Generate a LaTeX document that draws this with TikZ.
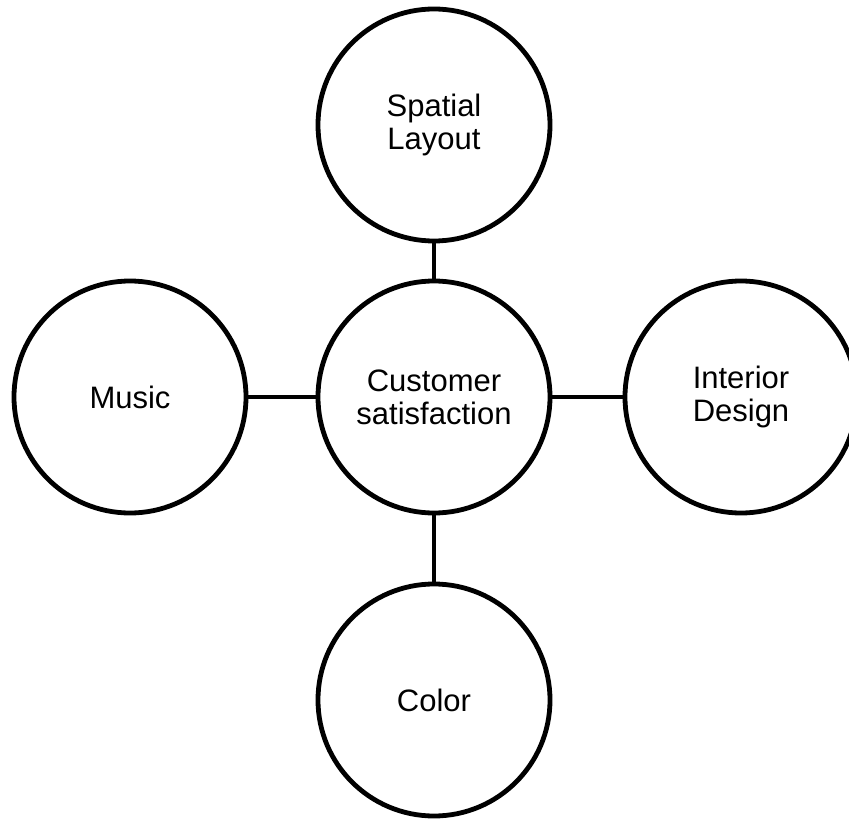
\documentclass[tikz,border=0pt]{standalone}
\usepackage{fontspec}
\setmainfont{Liberation Sans}
\begin{document}
\begin{tikzpicture}[x=1pt,y=-1pt,
  bubble/.style={draw=black,line width=4.8pt,circle,minimum size=232pt,inner sep=0pt,
    align=center,font=\fontsize{31}{33}\selectfont},
  link/.style={draw=black,line width=4.8pt}]
\useasboundingbox (0,0) rectangle (849,821);
\node[bubble] (c) at (434,397) {Customer\\satisfaction};
\node[bubble] (t) at (434,125) {Spatial\\Layout};
\node[bubble] (l) at (130,397) {Music};
\node[bubble] (r) at (741,397) {Interior\\Design};
\node[bubble] (b) at (434,700) {Color};
\draw[link] (t) -- (c);
\draw[link] (l) -- (c);
\draw[link] (c) -- (r);
\draw[link] (c) -- (b);
\end{tikzpicture}
\end{document}
